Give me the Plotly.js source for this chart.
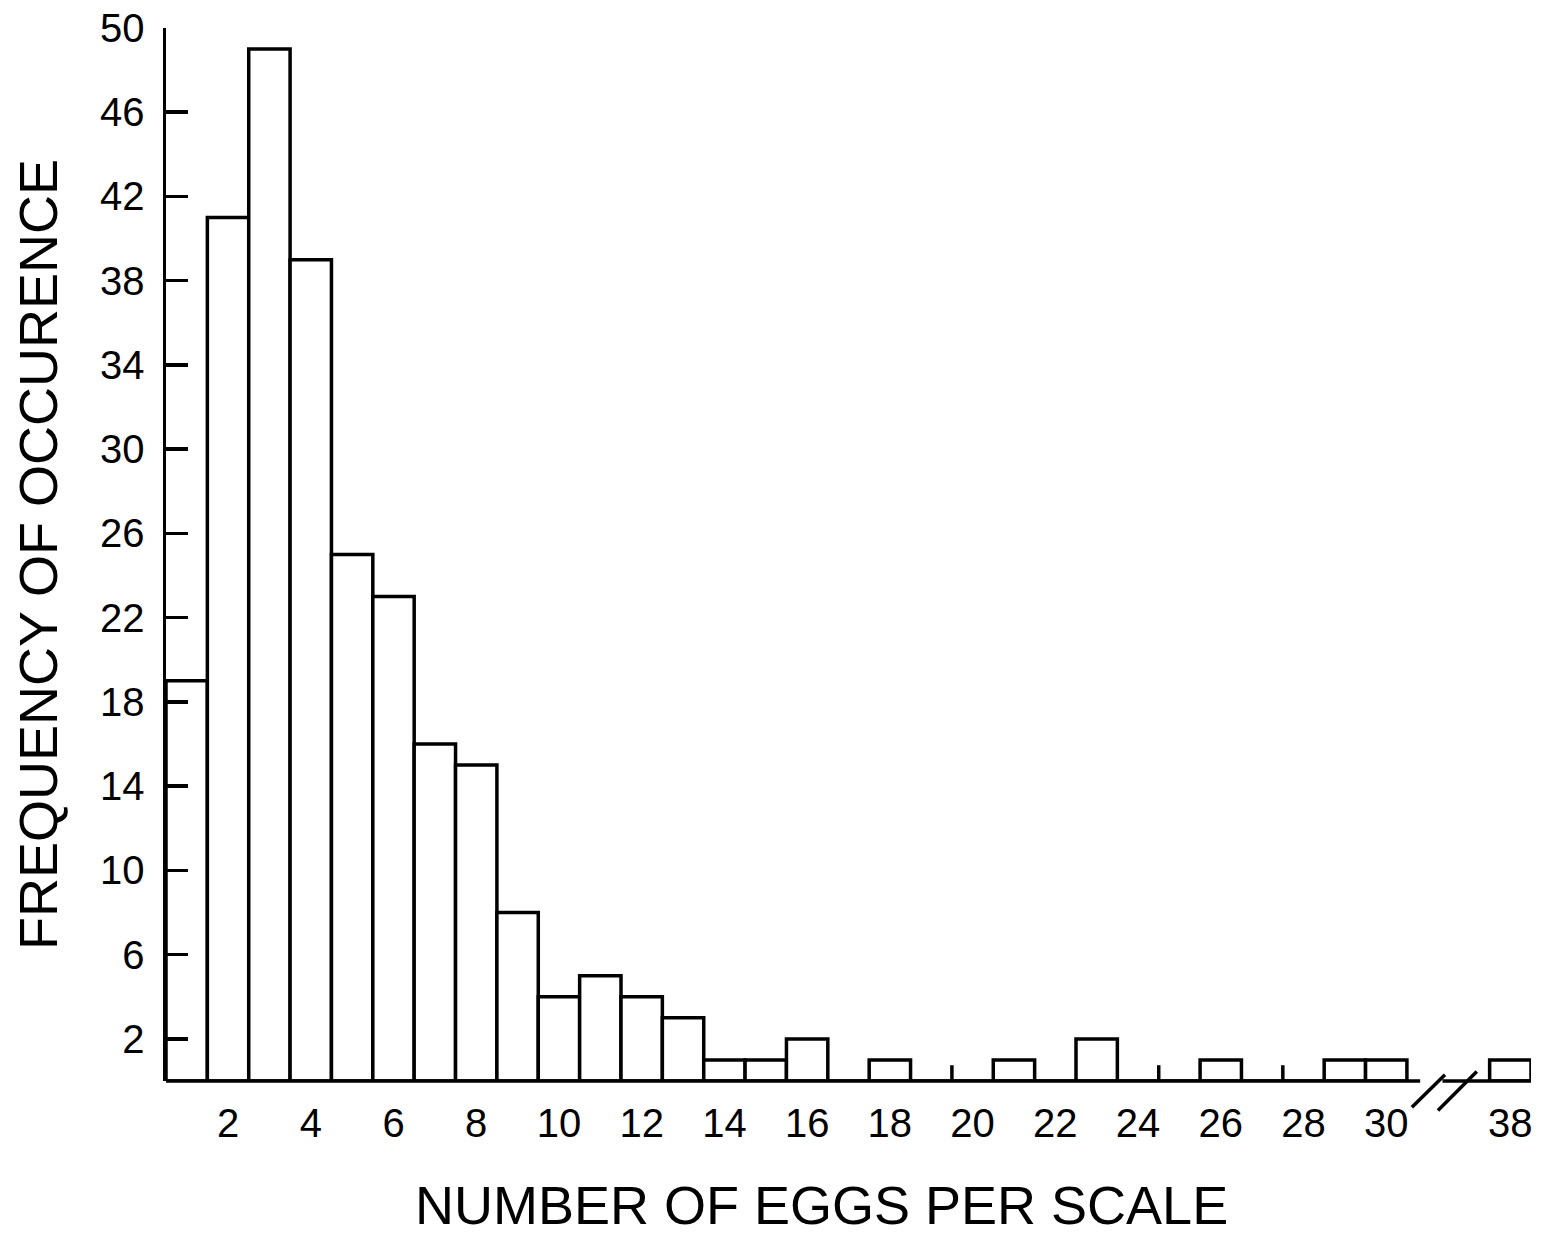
<!DOCTYPE html>
<html>
<head>
<meta charset="utf-8">
<script src="https://cdn.plot.ly/plotly-3.0.1.min.js"></script>
<style>
  html, body { margin: 0; padding: 0; background: #ffffff; }
  #chart { width: 1554px; height: 1237px; }
</style>
</head>
<body>
<div id="chart"></div>
<script>
// Number of eggs found on a scale, and how many scales had that count
const eggsPerScale = [1, 2, 3, 4, 5, 6, 7, 8, 9, 10,
                      11, 12, 13, 14, 15, 16, 17, 18, 19, 20,
                      21, 22, 23, 24, 25, 26, 27, 28, 29, 30, 38];
const frequency    = [19, 41, 49, 39, 25, 23, 16, 15, 8, 4,
                      5, 4, 3, 1, 1, 2, 0, 1, 0, 0,
                      1, 0, 2, 0, 0, 1, 0, 0, 1, 1, 1];

// Tick labels along the egg-count axis
const xTickValues = [2, 4, 6, 8, 10, 12, 14, 16, 18, 20, 22, 24, 26, 28, 30, 38];
const xTickLabels = ['2', '4', '6', '8', '10', '12', '14', '16', '18', '20',
                     '22', '24', '26', '28', '30', '38'];

// Short marks standing on the baseline between some empty bins
const baselineMarks = [19.5, 24.5, 27.5];

// Broken axis: counts 31..37 are skipped, 38 sits after a two-slot gap
const breakAfter = 30;
const resumeAt = 38;
const gapSlots = 2;
function slot(v) {
  return v <= breakAfter ? v : breakAfter + 1 + gapSlots + (v - resumeAt);
}

const xPos = eggsPerScale.map(slot);
const tickPos = xTickValues.map(slot);
const xMin = 0.5;
const xMax = slot(resumeAt) + 0.5;

const shapes = [];
// baseline, left part running into the first slash
shapes.push({type: 'line', xref: 'x', yref: 'paper', x0: xMin, x1: breakAfter + 0.82,
             y0: 0, y1: 0, line: {color: '#000', width: 3.5}});
// baseline, right part starting from the second slash
shapes.push({type: 'line', xref: 'x', yref: 'paper', x0: breakAfter + 1.36, x1: xMax,
             y0: 0, y1: 0, line: {color: '#000', width: 3.5}});
// the two break slashes
shapes.push({type: 'line', xref: 'x', yref: 'paper',
             x0: breakAfter + 0.62, x1: breakAfter + 1.42,
             y0: -0.025, y1: 0.006, line: {color: '#000', width: 3.5}});
shapes.push({type: 'line', xref: 'x', yref: 'paper',
             x0: breakAfter + 1.25, x1: breakAfter + 2.19,
             y0: -0.028, y1: 0.009, line: {color: '#000', width: 3.5}});
// small upright marks on the baseline
baselineMarks.forEach(function (m) {
  shapes.push({type: 'line', xref: 'x', yref: 'y', x0: m, x1: m,
               y0: 0, y1: 0.75, line: {color: '#000', width: 3.5}});
});

const fontFamily = '"Liberation Sans", Arial, Helvetica, sans-serif';

const trace = {
  type: 'bar',
  x: xPos,
  y: frequency,
  width: 1,
  marker: {color: '#ffffff', line: {color: '#000000', width: 3.5}},
  hoverinfo: 'skip',
  showlegend: false
};

const layout = {
  width: 1554,
  height: 1237,
  margin: {l: 166, r: 23, t: 28, b: 156},
  paper_bgcolor: '#ffffff',
  plot_bgcolor: '#ffffff',
  bargap: 0,
  font: {family: fontFamily, color: '#000000'},
  xaxis: {
    range: [xMin, xMax],
    tickmode: 'array',
    tickvals: tickPos,
    ticktext: xTickLabels,
    ticks: '',
    ticklabelstandoff: 15,
    showline: false,
    showgrid: false,
    zeroline: false,
    tickfont: {family: fontFamily, size: 40, color: '#000'}
  },
  yaxis: {
    range: [0, 50],
    tickmode: 'linear',
    tick0: 2,
    dtick: 4,
    ticks: 'inside',
    ticklen: 22,
    tickwidth: 3.5,
    tickcolor: '#000',
    ticklabelstandoff: 10,
    showline: true,
    linewidth: 3.5,
    linecolor: '#000',
    showgrid: false,
    zeroline: false,
    tickfont: {family: fontFamily, size: 40, color: '#000'},
    title: {text: 'FREQUENCY OF OCCURENCE', standoff: 26,
            font: {family: fontFamily, size: 54, color: '#000'}}
  },
  shapes: shapes,
  annotations: [{
    text: 'NUMBER OF EGGS PER SCALE',
    xref: 'paper', yref: 'paper',
    x: 0.5, y: 0,
    xanchor: 'center', yanchor: 'middle',
    xshift: -27, yshift: -124,
    showarrow: false,
    font: {family: fontFamily, size: 54, color: '#000'}
  }]
};

Plotly.newPlot('chart', [trace], layout, {staticPlot: true, displayModeBar: false});
</script>
</body>
</html>
